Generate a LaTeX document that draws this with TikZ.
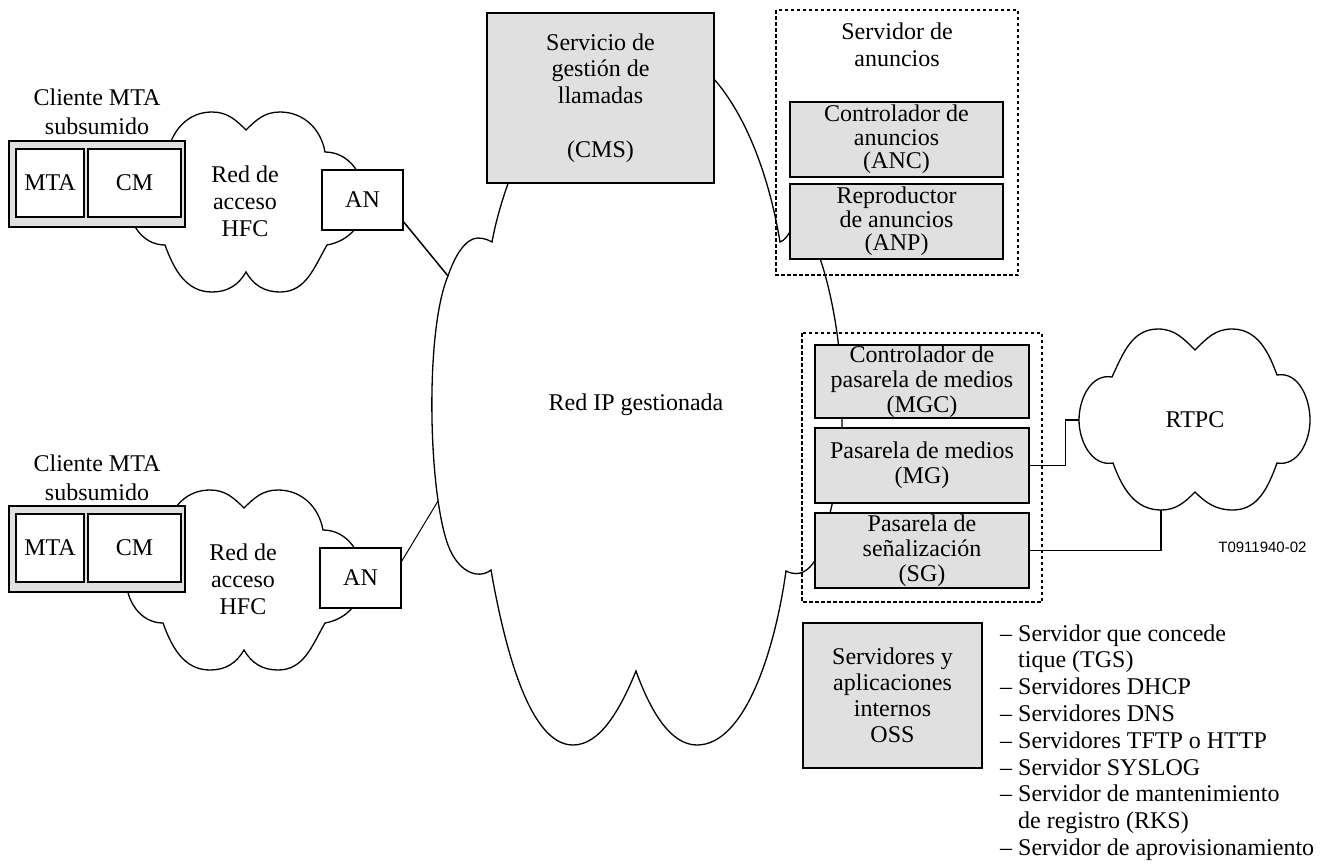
\documentclass[tikz,border=0pt]{standalone}
\usepackage{fontspec}
\setmainfont{Liberation Serif}
\newfontfamily\sansfam{Liberation Sans}
\usepackage{tikz}

\definecolor{grisclaro}{RGB}{224,224,224}
\tikzset{
    caja/.style={draw, line width=1.2pt, fill=grisclaro, align=center, inner sep=0pt},
    blanca/.style={draw, line width=1.2pt, fill=white, align=center, inner sep=0pt},
    marco/.style={line width=2pt, dash pattern=on 3.5pt off 2.5pt},
    nube/.style={line width=1.3pt},
    enlace/.style={line width=1.5pt}
}

\begin{document}
\begin{tikzpicture}[x=1pt,y=1pt,font=\fontsize{24}{26.8}\selectfont]
    \useasboundingbox (0,0) rectangle (1327,-863);

    % nubes
    \draw[nube] (492,-242)
        .. controls (505,-170) and (560,-40) .. (636,-40)
        .. controls (720,-40) and (765,-150) .. (780,-242)
        to[out=20,in=180] (800,-225)
        .. controls (815,-225) and (845,-320) .. (842,-420)
        .. controls (842,-470) and (830,-520) .. (817,-557)
        .. controls (810,-570) and (800,-578) .. (786,-571)
        .. controls (775,-650) and (745,-745) .. (697,-745)
        .. controls (670,-745) and (650,-710) .. (636,-671)
        .. controls (620,-710) and (600,-745) .. (573,-745)
        .. controls (530,-745) and (505,-650) .. (491,-570)
        .. controls (478,-580) and (458,-572) .. (448,-545)
        .. controls (428,-490) and (425,-330) .. (448,-276)
        .. controls (455,-255) and (466,-238) .. (478,-238)
        .. controls (485,-238) and (490,-241) .. cycle;
    \coordinate (ipA) at (448,-276);
    \coordinate (ipB) at (438,-501);
    \node (redip) at (636,-405) {Red IP gestionada};

    \draw[nube] (246,-130) to[out=135,in=0] (212,-112) to[out=180,in=75] (168,-150)
        to[out=255,in=90] (128,-200) to[out=270,in=180] (165,-245)
        to[out=290,in=180] (212,-292) to[out=0,in=240] (246,-272)
        to[out=300,in=180] (280,-292) to[out=0,in=240] (327,-245)
        to[out=10,in=270] (365,-200) to[out=90,in=0] (325,-152)
        to[out=100,in=0] (280,-112) to[out=180,in=45] cycle;
    \begin{scope}[shift={(-2,-378)}]
        \draw[nube] (246,-130) to[out=135,in=0] (212,-112) to[out=180,in=75] (168,-150)
            to[out=255,in=90] (128,-200) to[out=270,in=180] (165,-245)
            to[out=290,in=180] (212,-292) to[out=0,in=240] (246,-272)
            to[out=300,in=180] (280,-292) to[out=0,in=240] (327,-245)
            to[out=10,in=270] (365,-200) to[out=90,in=0] (325,-152)
            to[out=100,in=0] (280,-112) to[out=180,in=45] cycle;
    \end{scope}
    \node[align=center] (hfcA) at (245,-201.5) {Red de\\acceso\\HFC};
    \node[align=center] (hfcB) at (243,-579.5) {Red de\\acceso\\HFC};

    \draw[nube] (1112,-377) to[out=65,in=180] (1158,-329) to[out=0,in=135] (1195,-350)
        to[out=45,in=180] (1232,-329) to[out=0,in=110] (1277,-375)
        to[out=10,in=90] (1310,-420) to[out=270,in=350] (1277,-463)
        to[out=250,in=0] (1233,-510) to[out=180,in=315] (1195,-492)
        to[out=225,in=0] (1161,-510) to[out=180,in=290] (1113,-463)
        to[out=190,in=270] (1079,-420) to[out=90,in=170] cycle;
    \coordinate (rtpcW) at (1079,-420);
    \coordinate (rtpcS) at (1161,-510);
    \node (rtpc) at (1195,-420) {RTPC};

    % clientes
    \node[align=center, font=\fontsize{24}{29}\selectfont] (cliA) at (97,-112) {Cliente MTA\\subsumido};
    \node[caja, minimum width=176pt, minimum height=86pt] (cajaA) at (97,-184) {};
    \node[blanca, minimum width=68pt, minimum height=68pt] (mtaA) at (50,-183) {MTA};
    \node[blanca, minimum width=93pt, minimum height=68pt] (cmA) at (134.5,-183) {CM};
    \node[blanca, minimum width=81pt, minimum height=60pt] (anA) at (362.5,-200) {AN};

    \node[align=center, font=\fontsize{24}{29}\selectfont] (cliB) at (97,-477.5) {Cliente MTA\\subsumido};
    \node[caja, minimum width=176pt, minimum height=86pt] (cajaB) at (97,-549) {};
    \node[blanca, minimum width=68pt, minimum height=68pt] (mtaB) at (50,-548) {MTA};
    \node[blanca, minimum width=93pt, minimum height=68pt] (cmB) at (134.5,-548) {CM};
    \node[blanca, minimum width=81pt, minimum height=60pt] (anB) at (360.5,-578) {AN};

    % servidores
    \node[caja, minimum width=227pt, minimum height=170pt] (cms) at (600.5,-98) {Servicio de\\gestión de\\llamadas\\[26.8pt](CMS)};

    \draw[marco] (776,-10) rectangle (1018,-275);
    \node[align=center] (anuncios) at (897,-45) {Servidor de\\anuncios};
    \node[caja, minimum width=213pt, minimum height=75pt, font=\fontsize{24}{23.4}\selectfont] (anc) at (896.5,-139.5) {Controlador de\\anuncios\\(ANC)};
    \node[caja, minimum width=213pt, minimum height=75pt, font=\fontsize{24}{23.4}\selectfont] (anp) at (896.5,-221.5) {Reproductor\\de anuncios\\(ANP)};

    \draw[marco] (802,-333) rectangle (1042,-602);
    \node[caja, minimum width=214pt, minimum height=73pt, font=\fontsize{24}{25}\selectfont] (mgc) at (922,-381.5) {Controlador de\\pasarela de medios\\(MGC)};
    \node[caja, minimum width=214pt, minimum height=75pt, font=\fontsize{24}{25}\selectfont] (mg) at (922,-465.5) {Pasarela de medios\\(MG)};
    \node[caja, minimum width=214pt, minimum height=75pt, font=\fontsize{24}{25}\selectfont] (sg) at (922,-550.5) {Pasarela de\\señalización\\(SG)};

    \node[caja, minimum width=179pt, minimum height=145pt, font=\fontsize{24}{26}\selectfont] (oss) at (892.5,-695.5) {Servidores y\\aplicaciones\\internos\\OSS};
    \node[anchor=base west, inner sep=0pt] (lista) at (1000,-641) {%
        \begin{tabular}[t]{@{}l@{\ }l@{}}
            \textendash & Servidor que concede\\
                        & tique (TGS)\\
            \textendash & Servidores DHCP\\
            \textendash & Servidores DNS\\
            \textendash & Servidores TFTP o HTTP\\
            \textendash & Servidor SYSLOG\\
            \textendash & Servidor de mantenimiento\\
                        & de registro (RKS)\\
            \textendash & Servidor de aprovisionamiento
        \end{tabular}};

    \node[anchor=east, font=\sansfam\fontsize{15}{17}\selectfont] (codigo) at (1310,-547) {T0911940-02};

    % enlaces
    \draw[enlace] (anA.-28) -- (ipA);
    \draw[line width=1pt] (anB.22) -- (ipB);
    \draw[enlace] (mg.east) -- ++(36,0) |- (rtpcW);
    \draw[enlace] (sg.east) -| (rtpcS);
\end{tikzpicture}
\end{document}
